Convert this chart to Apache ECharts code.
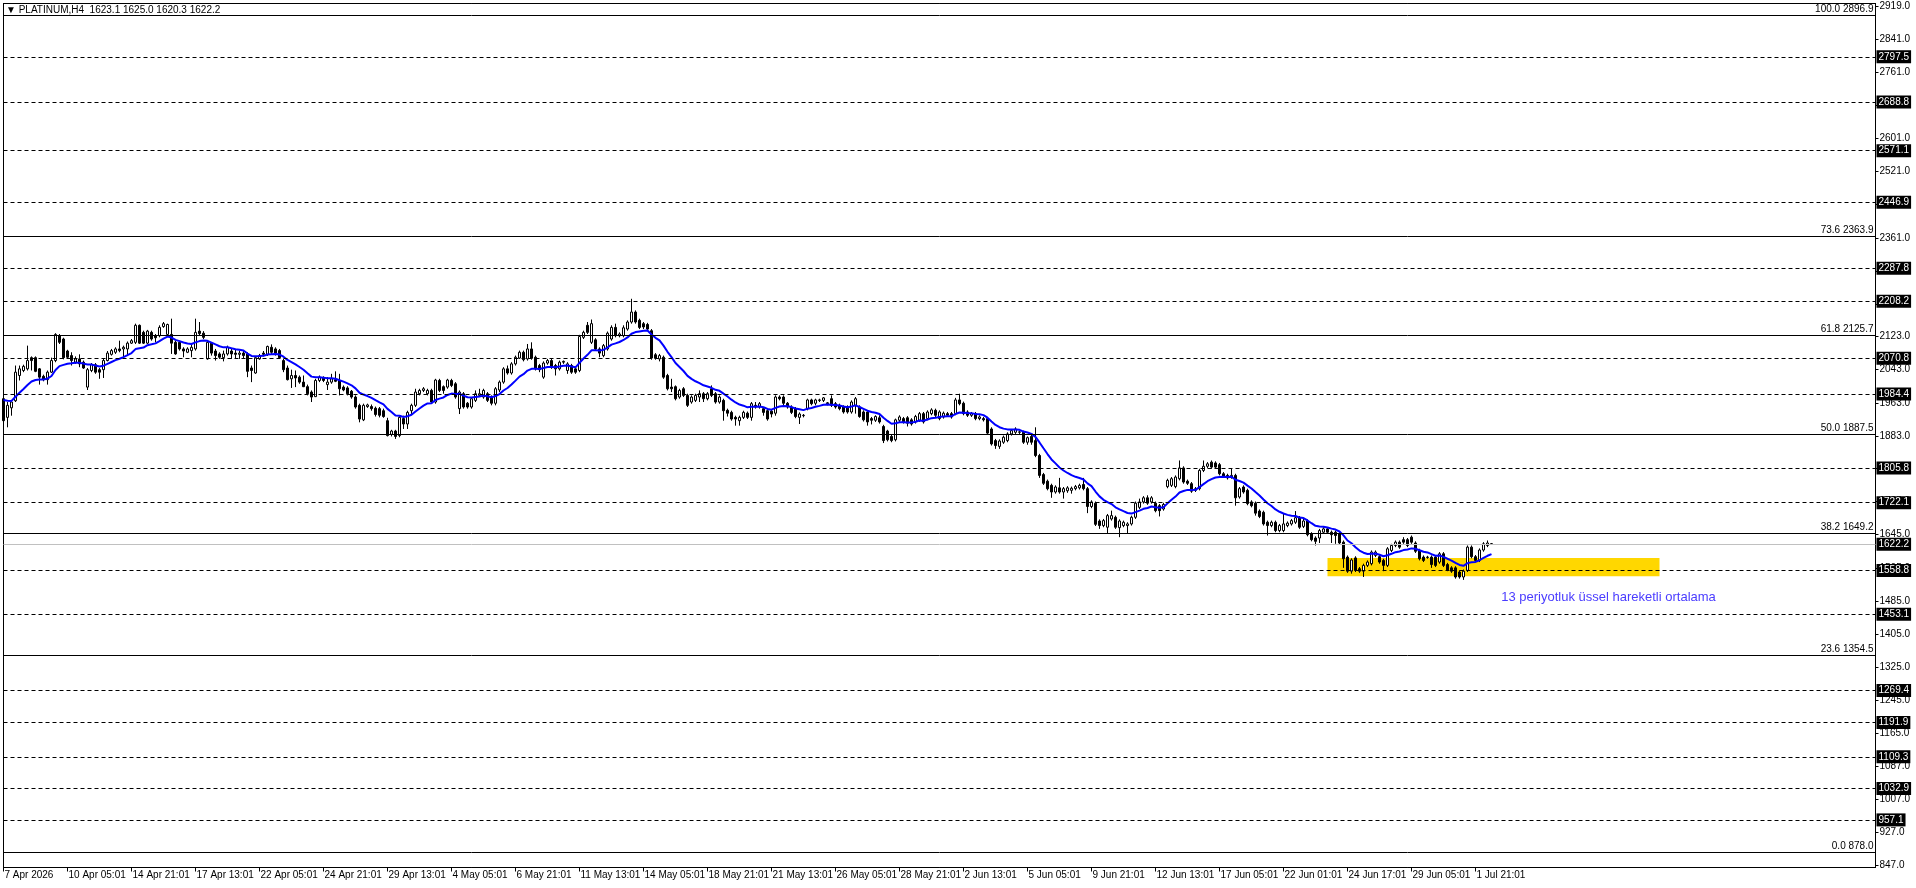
<!DOCTYPE html>
<html>
<head>
<meta charset="utf-8">
<title>PLATINUM,H4</title>
<script src="https://cdn.jsdelivr.net/npm/echarts@6/dist/echarts.min.js"></script>
<style>
  html, body { margin: 0; padding: 0; background: #fff; }
  #chart { width: 1916px; height: 888px; }
</style>
</head>
<body>
<div id="chart"></div>
<script>
const symbolTitle = '\u25BC PLATINUM,H4  1623.1 1625.0 1620.3 1622.2';

// every 16th bar gets a time label
const timeLabels = [
  '7 Apr 2026', '10 Apr 05:01', '14 Apr 21:01', '17 Apr 13:01', '22 Apr 05:01', '24 Apr 21:01',
  '29 Apr 13:01', '4 May 05:01', '6 May 21:01', '11 May 13:01', '14 May 05:01', '18 May 21:01',
  '21 May 13:01', '26 May 05:01', '28 May 21:01', '2 Jun 13:01', '5 Jun 05:01', '9 Jun 21:01',
  '12 Jun 13:01', '17 Jun 05:01', '22 Jun 01:01', '24 Jun 17:01', '29 Jun 05:01', '1 Jul 21:01'
];
const labelStep = 16;

const priceTicks = [
  2919, 2841, 2761, 2681, 2601, 2521, 2441, 2361, 2281, 2201, 2123, 2043, 1963, 1883,
  1805, 1725, 1645, 1565, 1485, 1405, 1325, 1245, 1165, 1087, 1007, 927, 847
];

// horizontal dashed levels
const levelLines = [
  2797.5, 2688.8, 2571.1, 2446.9, 2287.8, 2208.2, 2070.8, 1984.4, 1805.8, 1722.1,
  1558.8, 1453.1, 1269.4, 1191.9, 1109.3, 1032.9, 957.1
];

// fibo retracement: [percent, price]
const fibLevels = [
  [100.0, 2896.9], [73.6, 2363.9], [61.8, 2125.7], [50.0, 1887.5],
  [38.2, 1649.2], [23.6, 1354.5], [0.0, 878.0]
];

const bidPrice = 1622.2;

// yellow box: bar range and price range
const zoneBars = [331, 414];
const zonePrices = [1545, 1589];

const noteText = '13 periyotluk \u00FCssel hareketli ortalama';
const noteAt = [374.3, 1493.5];

const emaPeriod = 13;
const emaStart = 1970;

// H4 bars: [open, close, low, high]
const bars = [
  [1973,1920,1904,1977],[1928,1957,1904,1965],[1951,1965,1932,1969],[1968,2037,1965,2053],
  [2029,2045,2017,2053],[2041,2051,2037,2055],[2045,2065,2041,2101],[2072,2065,2041,2075],
  [2072,2039,2037,2075],[2045,2025,2007,2047],[2027,2019,2015,2031],[2019,2037,2007,2041],
  [2037,2065,2035,2072],[2065,2128,2061,2131],[2125,2109,2105,2129],[2117,2072,2068,2120],
  [2088,2073,2069,2091],[2077,2065,2053,2085],[2061,2069,2057,2075],[2069,2057,2049,2080],
  [2061,2047,2045,2065],[2001,2043,1994,2047],[2041,2055,2037,2059],[2055,2037,2033,2059],
  [2043,2037,2021,2047],[2043,2065,2023,2069],[2065,2083,2063,2088],[2080,2089,2077,2093],
  [2085,2093,2081,2097],[2093,2089,2085,2113],[2093,2097,2073,2101],[2093,2107,2077,2111],
  [2107,2113,2105,2117],[2109,2150,2105,2154],[2150,2107,2105,2152],[2133,2107,2105,2137],
  [2107,2136,2105,2139],[2133,2117,2113,2137],[2125,2120,2109,2129],[2125,2145,2121,2150],
  [2147,2154,2144,2158],[2128,2152,2125,2154],[2128,2107,2081,2166],[2109,2081,2079,2113],
  [2109,2093,2089,2113],[2093,2088,2073,2097],[2085,2093,2083,2097],[2089,2097,2073,2105],
  [2093,2133,2089,2166],[2136,2130,2125,2158],[2131,2121,2117,2136],[2069,2109,2067,2112],
  [2107,2083,2077,2109],[2088,2077,2065,2093],[2081,2073,2069,2085],[2072,2081,2063,2089],
  [2081,2097,2077,2101],[2088,2081,2069,2093],[2083,2080,2069,2093],[2080,2083,2069,2089],
  [2083,2077,2071,2088],[2081,2039,2025,2085],[2047,2041,2013,2053],[2035,2072,2033,2075],
  [2069,2077,2067,2081],[2083,2080,2075,2088],[2080,2099,2076,2101],[2097,2085,2081,2104],
  [2093,2083,2077,2097],[2089,2072,2069,2093],[2065,2043,2037,2069],[2047,2019,2017,2053],
  [2021,2029,1999,2043],[2029,2023,2001,2041],[2025,2013,2009,2029],[2013,2002,2001,2029],
  [2002,1985,1981,2007],[1989,1977,1965,1993],[1978,2017,1977,2021],[2017,2025,2013,2029],
  [2023,2017,2013,2027],[2007,2013,1994,2025],[2013,2021,2009,2033],[2019,2015,2013,2039],
  [2017,1997,1981,2033],[2001,1994,1991,2005],[1999,1985,1981,2003],[1991,1977,1973,1994],
  [1977,1953,1949,1981],[1957,1924,1916,1961],[1922,1957,1919,1961],[1954,1958,1951,1961],
  [1954,1949,1944,1959],[1950,1935,1930,1954],[1949,1933,1928,1953],[1944,1930,1927,1949],
  [1920,1884,1882,1927],[1887,1895,1882,1898],[1895,1882,1876,1898],[1884,1928,1880,1933],
  [1925,1912,1900,1932],[1912,1940,1900,1944],[1944,1957,1936,1961],[1957,1989,1953,1997],
  [1985,1993,1981,1997],[1993,1997,1989,2001],[1985,1993,1981,1997],[1993,1965,1961,1997],
  [1965,2018,1961,2021],[2017,1993,1989,2021],[2002,1993,1985,2005],[2001,2018,1997,2021],
  [2017,2005,2001,2021],[2009,1977,1973,2013],[1949,1989,1936,1993],[1985,1953,1949,1989],
  [1962,1953,1949,1965],[1953,1973,1949,1977],[1969,1985,1965,1993],[1981,1985,1977,1997],
  [1977,1993,1973,1997],[1985,1969,1965,1989],[1977,1962,1957,1981],[1962,1997,1957,2001],
  [1994,2013,1989,2017],[2013,2045,2009,2049],[2045,2035,2031,2053],[2035,2057,2031,2061],
  [2057,2073,2053,2077],[2071,2085,2069,2089],[2085,2067,2063,2089],[2069,2093,2065,2105],
  [2093,2071,2067,2109],[2073,2045,2041,2077],[2053,2043,2037,2057],[2025,2059,2021,2063],
  [2059,2065,2055,2069],[2065,2049,2045,2069],[2053,2045,2029,2057],[2045,2061,2041,2065],
  [2061,2063,2057,2065],[2041,2057,2033,2061],[2053,2037,2033,2057],[2045,2037,2033,2049],
  [2041,2123,2037,2127],[2121,2133,2117,2137],[2150,2133,2129,2158],[2109,2154,2105,2164],
  [2115,2093,2089,2119],[2093,2083,2073,2097],[2077,2101,2073,2105],[2093,2131,2089,2135],
  [2117,2145,2113,2150],[2145,2125,2121,2154],[2125,2129,2121,2133],[2125,2144,2121,2150],
  [2141,2158,2137,2162],[2158,2182,2154,2214],[2182,2158,2154,2186],[2162,2145,2141,2166],
  [2154,2146,2141,2158],[2152,2141,2137,2156],[2137,2071,2067,2141],[2079,2071,2067,2083],
  [2069,2077,2063,2081],[2073,2025,2021,2077],[2029,1997,1993,2033],[2001,1997,1989,2021],
  [2002,1973,1969,2005],[1977,1993,1973,1997],[1997,1981,1977,2001],[1981,1957,1953,1985],
  [1965,1977,1961,1981],[1969,1981,1965,1985],[1977,1985,1965,1993],[1985,1973,1965,1989],
  [1973,1985,1969,1989],[1997,1981,1977,2005],[1985,1965,1961,1989],[1965,1977,1961,1981],
  [1969,1944,1920,1973],[1945,1938,1930,1949],[1940,1924,1920,1944],[1928,1924,1908,1932],
  [1920,1928,1908,1932],[1928,1940,1924,1944],[1938,1928,1924,1942],[1928,1961,1920,1965],
  [1957,1953,1949,1965],[1953,1961,1949,1965],[1949,1940,1932,1953],[1944,1924,1920,1949],
  [1943,1936,1928,1947],[1938,1977,1932,1981],[1977,1973,1969,1981],[1977,1962,1957,1981],
  [1962,1953,1949,1965],[1953,1940,1936,1957],[1949,1930,1926,1953],[1928,1936,1912,1940],
  [1932,1933,1928,1936],[1949,1970,1945,1973],[1970,1961,1957,1973],[1962,1970,1957,1973],
  [1970,1969,1965,1973],[1969,1975,1965,1977],[1963,1961,1957,1965],[1973,1957,1953,1981],
  [1961,1953,1949,1965],[1957,1949,1945,1961],[1953,1941,1937,1957],[1953,1941,1937,1957],
  [1941,1965,1937,1969],[1957,1973,1937,1977],[1953,1930,1927,1957],[1941,1922,1918,1945],
  [1941,1917,1908,1945],[1925,1921,1911,1929],[1921,1930,1917,1933],[1927,1917,1913,1933],
  [1906,1872,1866,1910],[1895,1874,1870,1898],[1882,1872,1868,1886],[1874,1922,1870,1925],
  [1921,1929,1917,1933],[1925,1917,1913,1929],[1927,1914,1906,1931],[1922,1912,1908,1926],
  [1917,1930,1913,1934],[1921,1937,1917,1941],[1937,1917,1913,1941],[1925,1941,1921,1945],
  [1937,1946,1933,1950],[1945,1933,1929,1949],[1925,1941,1921,1945],[1929,1938,1925,1942],
  [1937,1933,1929,1941],[1937,1929,1925,1941],[1937,1970,1933,1975],[1970,1961,1957,1985],
  [1962,1937,1933,1966],[1941,1933,1929,1945],[1933,1937,1929,1941],[1937,1925,1921,1941],
  [1925,1929,1921,1933],[1925,1922,1918,1929],[1925,1890,1886,1929],[1900,1864,1860,1904],
  [1872,1860,1852,1876],[1858,1871,1852,1875],[1868,1880,1864,1884],[1872,1888,1868,1892],
  [1888,1896,1884,1900],[1892,1900,1888,1904],[1892,1893,1888,1896],[1892,1868,1864,1896],
  [1868,1879,1862,1882],[1882,1868,1862,1886],[1872,1836,1832,1904],[1836,1788,1782,1840],
  [1790,1769,1765,1794],[1774,1756,1752,1778],[1764,1748,1734,1768],[1748,1760,1744,1764],
  [1758,1748,1744,1782],[1748,1756,1732,1760],[1751,1758,1746,1762],[1752,1757,1744,1761],
  [1756,1761,1752,1765],[1758,1764,1754,1768],[1766,1756,1752,1782],[1756,1713,1697,1760],
  [1713,1724,1709,1728],[1721,1670,1666,1725],[1678,1667,1659,1682],[1667,1679,1663,1683],
  [1663,1691,1647,1695],[1683,1691,1679,1703],[1687,1663,1659,1691],[1662,1678,1639,1682],
  [1667,1675,1663,1679],[1667,1671,1647,1675],[1671,1687,1667,1691],[1687,1721,1683,1725],
  [1711,1724,1707,1732],[1724,1734,1720,1738],[1734,1721,1717,1740],[1724,1734,1720,1738],
  [1721,1703,1699,1725],[1715,1703,1689,1719],[1707,1718,1703,1722],[1761,1776,1757,1780],
  [1764,1780,1760,1784],[1761,1784,1757,1788],[1780,1806,1776,1824],[1806,1772,1768,1810],
  [1774,1769,1765,1778],[1768,1750,1746,1772],[1752,1756,1748,1760],[1756,1800,1752,1804],
  [1800,1810,1796,1824],[1810,1816,1806,1820],[1820,1808,1804,1824],[1818,1808,1804,1822],
  [1814,1792,1788,1818],[1792,1786,1782,1796],[1788,1782,1778,1792],[1784,1788,1780,1804],
  [1788,1734,1715,1792],[1736,1756,1732,1760],[1760,1748,1744,1764],[1752,1720,1716,1756],
  [1724,1715,1711,1728],[1721,1697,1691,1725],[1702,1689,1685,1706],[1699,1671,1667,1703],
  [1675,1667,1643,1679],[1667,1675,1663,1679],[1675,1655,1651,1679],[1655,1667,1651,1671],
  [1655,1671,1651,1695],[1667,1673,1663,1677],[1671,1679,1667,1683],[1675,1686,1671,1702],
  [1686,1663,1659,1690],[1665,1678,1661,1683],[1678,1645,1641,1682],[1647,1633,1629,1651],
  [1637,1629,1619,1641],[1637,1655,1625,1659],[1651,1659,1647,1663],[1659,1651,1647,1663],
  [1651,1645,1625,1655],[1651,1643,1623,1655],[1647,1625,1621,1651],[1627,1587,1565,1631],
  [1591,1557,1553,1595],[1557,1584,1551,1588],[1589,1559,1555,1593],[1563,1557,1553,1567],
  [1557,1571,1543,1575],[1571,1579,1567,1583],[1575,1603,1571,1607],[1595,1603,1591,1607],
  [1592,1579,1575,1596],[1583,1571,1557,1587],[1571,1611,1567,1615],[1607,1619,1603,1623],
  [1619,1627,1615,1631],[1627,1615,1611,1631],[1633,1627,1623,1639],[1633,1619,1615,1637],
  [1639,1627,1623,1643],[1625,1605,1601,1629],[1607,1587,1583,1611],[1591,1583,1579,1595],
  [1590,1591,1587,1594],[1591,1573,1565,1595],[1591,1571,1567,1595],[1579,1599,1575,1603],
  [1599,1571,1567,1603],[1573,1560,1557,1577],[1565,1557,1553,1569],[1565,1543,1539,1569],
  [1555,1543,1539,1559],[1543,1557,1536,1561],[1559,1615,1555,1619],[1615,1592,1588,1619],
  [1592,1583,1579,1596],[1583,1608,1579,1612],[1608,1623,1604,1627],[1619,1625,1615,1631],
  [1623.1,1622.2,1620.3,1625.0]
];

const FONT = 'Liberation Sans';

// 13 period EMA on closes
const emaAlpha = 2 / (emaPeriod + 1);
const ema = [];
let e = emaStart;
bars.forEach((b, i) => {
  if (i > 0) e = e + (b[1] - e) * emaAlpha;
  ema.push([i, +e.toFixed(2)]);
});

const tickBars = timeLabels.map((_, k) => k * labelStep);

const boxLabel = (txt) => ({
  show: true, position: 'end', distance: 1, formatter: txt,
  color: '#fff', backgroundColor: '#000', padding: [1, 2, 1, 2],
  fontSize: 10, lineHeight: 11, fontFamily: FONT
});

// plain frame axes (left and top edges)
const frameAxis = {
  show: true,
  axisLine: { show: true, onZero: false, lineStyle: { color: '#000', width: 1 } },
  axisTick: { show: false }, axisLabel: { show: false }, splitLine: { show: false }
};

const chart = echarts.init(document.getElementById('chart'), null, { renderer: 'canvas' });

chart.setOption({
  animation: false,
  backgroundColor: '#fff',
  title: {
    text: symbolTitle, left: 6, top: 5, padding: 0,
    textStyle: { fontSize: 10, fontWeight: 'normal', color: '#000', fontFamily: FONT }
  },
  // half-pixel edges keep the frame crisp
  grid: {
    left: 3.5, right: 40.5, top: 3.5, height: 864,
    show: true, borderColor: '#000', borderWidth: 1, backgroundColor: '#fff'
  },
  xAxis: [
    {
      type: 'value', min: 0, max: 468,
      axisLine: { show: true, onZero: false, lineStyle: { color: '#000', width: 1 } },
      axisTick: { show: true, customValues: tickBars, length: 4, lineStyle: { color: '#000' } },
      axisLabel: {
        customValues: tickBars,
        formatter: (v) => timeLabels[Math.round(v / labelStep)] || '',
        align: 'left', margin: 3, padding: [0, 0, 0, 1],
        fontSize: 10, color: '#000', fontFamily: FONT
      },
      splitLine: { show: false }
    },
    Object.assign({ type: 'value', position: 'top', min: 0, max: 468 }, frameAxis)
  ],
  yAxis: [
    {
      type: 'value', position: 'right', min: 842.3, max: 2926.2,
      axisLine: { show: true, onZero: false, lineStyle: { color: '#000', width: 1 } },
      axisTick: { show: true, customValues: priceTicks, length: 3, lineStyle: { color: '#000' } },
      axisLabel: {
        customValues: priceTicks,
        formatter: (v) => v.toFixed(1),
        margin: 4, fontSize: 10, color: '#000', fontFamily: FONT
      },
      splitLine: { show: false }
    },
    Object.assign({ type: 'value', position: 'left', min: 842.3, max: 2926.2 }, frameAxis)
  ],
  series: [
    {
      name: 'objects', type: 'line', data: [], silent: true, z: 1,
      markArea: {
        silent: true,
        itemStyle: { color: '#FFD700' },
        data: [[
          { xAxis: zoneBars[0], yAxis: zonePrices[1] },
          { xAxis: zoneBars[1], yAxis: zonePrices[0] }
        ]]
      },
      markLine: {
        silent: true, symbol: 'none', precision: 1,
        data: [
          ...levelLines.map((v) => ({
            yAxis: v,
            lineStyle: { color: '#000', width: 1, type: [4, 3] },
            label: boxLabel(v.toFixed(1))
          })),
          {
            yAxis: bidPrice,
            lineStyle: { color: '#c0c0c0', width: 1, type: 'solid' },
            label: boxLabel(bidPrice.toFixed(1))
          },
          ...fibLevels.map(([pct, v]) => ({
            yAxis: v,
            lineStyle: { color: '#000', width: 1, type: 'solid' },
            label: {
              show: true, position: 'insideEndTop', distance: [2, 1],
              formatter: pct.toFixed(1) + ' ' + v.toFixed(1),
              color: '#000', fontSize: 10, fontFamily: FONT
            }
          }))
        ]
      }
    },
    {
      name: 'PLATINUM', type: 'candlestick', z: 3, silent: true,
      barWidth: 2,
      data: bars.map((b, i) => [i, b[0], b[1], b[2], b[3]]),
      itemStyle: {
        color: '#fff', color0: '#000',
        borderColor: '#000', borderColor0: '#000', borderWidth: 1
      }
    },
    {
      name: 'EMA 13', type: 'line', z: 4, silent: true,
      data: ema, symbol: 'none',
      lineStyle: { color: '#0000ff', width: 2 },
      markPoint: {
        silent: true, symbol: 'circle', symbolSize: 1,
        itemStyle: { color: 'rgba(0,0,0,0)' },
        data: [{ coord: noteAt }],
        label: {
          show: true, position: 'right', distance: 0, formatter: noteText,
          color: '#4a3cff', fontSize: 13, fontFamily: FONT
        }
      }
    }
  ]
});
</script>
</body>
</html>
